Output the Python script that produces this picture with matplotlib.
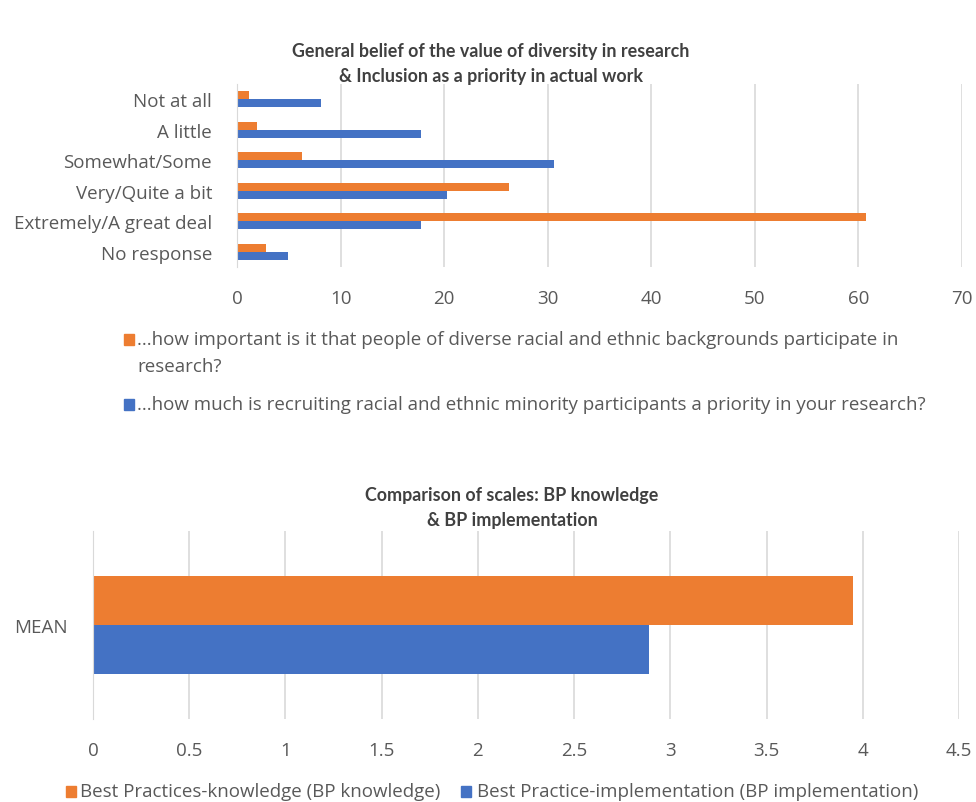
import matplotlib
matplotlib.use('Agg')
import matplotlib.pyplot as plt
from matplotlib.patches import Rectangle

plt.rcParams['font.family'] = ['Open Sans', 'DejaVu Sans']

# datos del primer gráfico
categorias = ['Not at all', 'A little', 'Somewhat/Some', 'Very/Quite a bit',
              'Extremely/A great deal', 'No response']
importancia = [1.2, 1.9, 6.3, 26.3, 60.7, 2.8]
prioridad = [8.1, 17.8, 30.6, 20.3, 17.8, 4.9]
etiqueta_importancia = ['...how important is it that people of diverse racial and ethnic '
                        'backgrounds participate in', 'research?']
etiqueta_prioridad = ('...how much is recruiting racial and ethnic minority participants '
                      'a priority in your research?')

# datos del segundo gráfico
escala = ['MEAN']
bp_conocimiento = [3.95]
bp_implementacion = [2.89]
etiqueta_conocimiento = 'Best Practices-knowledge (BP knowledge)'
etiqueta_implementacion = 'Best Practice-implementation (BP implementation)'

NARANJA = '#ED7D31'
AZUL = '#4472C4'
GRIS_TEXTO = '#595959'
GRIS_TITULO = '#404040'
GRIS_GRILLA = '#D9D9D9'
TAM = 13.5

W, H = 976, 803
fig = plt.figure(figsize=(W / 100, H / 100), dpi=100)


def caja(x0, y0, x1, y1):
    # pixeles (desde arriba) a coordenadas de figura
    return [x0 / W, 1 - y1 / H, (x1 - x0) / W, (y1 - y0) / H]


def estilo(ax):
    for s in ['top', 'right', 'bottom']:
        ax.spines[s].set_visible(False)
    ax.spines['left'].set_color(GRIS_GRILLA)
    ax.xaxis.grid(True, color=GRIS_GRILLA, linewidth=1.2)
    ax.set_axisbelow(True)
    ax.tick_params(axis='both', length=0, colors=GRIS_TEXTO, labelsize=TAM)
    ax.tick_params(axis='x', pad=16)


def cuadro(x, y, color):
    fig.patches.append(Rectangle((x / W, 1 - (y + 6) / H), 10 / W, 11 / H,
                                 color=color, transform=fig.transFigure))


def texto(x, y, s, **kw):
    fig.text(x / W, 1 - y / H, s, ha='left', va='center',
             fontsize=TAM, color=GRIS_TEXTO, **kw)


def titulo(x, y, s):
    fig.text(x / W, 1 - y / H, s, ha='center', va='center',
             fontsize=12.9, fontweight='bold', family=['Lato', 'DejaVu Sans'],
             color=GRIS_TITULO, linespacing=1.55)


# gráfico superior
ax1 = fig.add_axes(caja(237, 85, 962, 268))
pos = list(range(len(categorias)))
alto = 0.27
ax1.barh([p - alto / 2 for p in pos], importancia, height=alto, color=NARANJA)
ax1.barh([p + alto / 2 for p in pos], prioridad, height=alto, color=AZUL)
ax1.set_yticks(pos)
ax1.set_yticklabels(categorias)
ax1.set_ylim(len(categorias) - 0.5, -0.5)
ax1.set_xlim(0, 70)
ax1.set_xticks(range(0, 71, 10))
estilo(ax1)
ax1.tick_params(axis='y', pad=18)

titulo(491, 64, 'General belief of the value of diversity in research\n'
                '& Inclusion as a priority in actual work')

# leyenda superior
cuadro(124, 340, NARANJA)
texto(137, 340, etiqueta_importancia[0])
texto(137, 367, etiqueta_importancia[1])
cuadro(124, 405, AZUL)
texto(137, 405, etiqueta_prioridad)

# gráfico inferior
ax2 = fig.add_axes(caja(93, 532, 959, 720))
alto2 = 0.26
ax2.barh([0 - alto2 / 2], bp_conocimiento, height=alto2, color=NARANJA)
ax2.barh([0 + alto2 / 2], bp_implementacion, height=alto2, color=AZUL)
ax2.set_yticks([0])
ax2.set_yticklabels(escala)
ax2.set_ylim(0.5, -0.5)
ax2.set_xlim(0, 4.5)
ax2.set_xticks([0, 0.5, 1, 1.5, 2, 2.5, 3, 3.5, 4, 4.5])
ax2.set_xticklabels(['0', '0.5', '1', '1.5', '2', '2.5', '3', '3.5', '4', '4.5'])
estilo(ax2)
ax2.tick_params(axis='y', pad=18)

titulo(512, 508, 'Comparison of scales: BP knowledge\n& BP implementation')

# leyenda inferior
cuadro(66, 792, NARANJA)
texto(80, 792, etiqueta_conocimiento)
cuadro(461, 792, AZUL)
texto(477, 792, etiqueta_implementacion)

fig.savefig('out.png', dpi=100, facecolor='white')
